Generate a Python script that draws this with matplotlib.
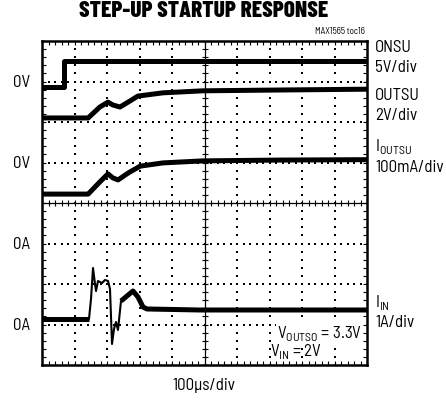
import numpy as np
import matplotlib.pyplot as plt

# scope traces, in divisions (x: 0..10, y: 0..8 from bottom)
onsu_x = [0, 0.68, 0.68, 10]
onsu_y = [6.86, 6.86, 7.5, 7.5]

outsu_x = [0, 1.42, 1.78, 2.03, 2.18, 2.40, 2.71, 2.95, 3.72, 4.95, 7.32, 10]
outsu_y = [6.10, 6.10, 6.37, 6.49, 6.42, 6.37, 6.52, 6.64, 6.72, 6.77, 6.79, 6.81]

ioutsu_x = [0, 1.42, 1.78, 2.03, 2.18, 2.34, 2.65, 3.02, 3.72, 4.95, 7.32, 10]
ioutsu_y = [4.22, 4.22, 4.52, 4.72, 4.62, 4.57, 4.74, 4.91, 4.99, 5.04, 5.06, 5.07]

iin_x = [0, 1.446, 1.508, 1.569, 1.631, 1.662, 1.723, 1.846, 1.938, 2.031, 2.092,
         2.154, 2.215, 2.277, 2.338, 2.431, 2.615, 2.8, 2.954, 3.108, 3.231, 4.862, 10]
iin_y = [1.136, 1.136, 1.63, 2.395, 2.0, 1.827, 2.074, 2.025, 2.099, 2.074, 1.877,
         0.519, 0.889, 1.062, 0.864, 1.580, 1.704, 1.827, 1.679, 1.432, 1.383, 1.358, 1.358]

left_labels = ["0V", "0V", "0A", "0A"]
left_label_y = [7, 5, 3, 1]

font = "Barlow Semi Condensed"
plt.rcParams['font.family'] = [font, 'DejaVu Sans']
plt.rcParams['mathtext.fontset'] = 'custom'
plt.rcParams['mathtext.rm'] = font

fig = plt.figure(figsize=(4.46, 4.02), dpi=100)
ax = fig.add_axes([42/446, 36/402, 325/446, 324/402])
ax.set_xlim(0, 10)
ax.set_ylim(0, 8)

# dotted graticule
fine = np.arange(0, 10.01, 0.2)
fine_y = np.arange(0, 8.01, 0.2)
for gy in [1, 2, 3, 5, 6, 7]:
    ax.scatter(fine, np.full_like(fine, gy), s=1.4, c="black", marker="s", linewidths=0)
for gx in [1, 2, 3, 4, 6, 7, 8, 9]:
    ax.scatter(np.full_like(fine_y, gx), fine_y, s=1.4, c="black", marker="s", linewidths=0)
ax.axhline(4, color="black", lw=0.9)
ax.axvline(5, color="black", lw=0.9)
ax.plot(fine, np.full_like(fine, 4), ls="none", marker="|", ms=5, mew=0.8, color="black")
ax.plot(np.full_like(fine_y, 5), fine_y, ls="none", marker="_", ms=5, mew=0.8, color="black")

# traces
tw = 3.6
ax.plot(onsu_x, onsu_y, color="black", lw=tw, solid_capstyle="butt")
ax.plot(outsu_x, outsu_y, color="black", lw=tw, solid_capstyle="butt")
ax.plot(ioutsu_x, ioutsu_y, color="black", lw=tw, solid_capstyle="butt")
ax.plot(iin_x, iin_y, color="black", lw=1.5)
ax.plot(iin_x[:2], iin_y[:2], color="black", lw=tw, solid_capstyle="butt")
ax.plot(iin_x[15:], iin_y[15:], color="black", lw=tw, solid_capstyle="butt")

ax.set_xticks(np.arange(0, 11, 1))
ax.set_yticks(np.arange(0, 9, 1))
ax.set_xticks(fine, minor=True)
ax.set_yticks(fine_y, minor=True)
ax.tick_params(which="both", direction="in", top=True, right=True,
               labelbottom=False, labelleft=False, length=3, width=0.8)
for s in ax.spines.values():
    s.set_linewidth(1.8)

fs = 12.2
for lab, ly in zip(left_labels, left_label_y):
    ax.text(-0.62, ly, lab, ha="center", va="center", fontsize=fs)

fig.text(204/446, 1 - 11/402, "STEP-UP STARTUP RESPONSE", ha="center", va="center",
         fontsize=16.8, fontweight=800, family=["Barlow Condensed", "DejaVu Sans"])
fig.text(365/446, 1 - 31/402, "MAX1565 toc16", ha="right", va="center", fontsize=6.5)

rx = 375/446
right_labels = [("ONSU", 48), ("5V/div", 68), ("OUTSU", 95), ("2V/div", 115),
                (r"I$_{\mathrm{OUTSU}}$", 147), ("100mA/div", 167),
                (r"I$_{\mathrm{IN}}$", 303), ("1A/div", 323)]
for t, py in right_labels:
    fig.text(rx, 1 - py/402, t, ha="left", va="center", fontsize=fs)

ax.text(9.85, 0.8, r"V$_{\mathrm{OUTSO}}$ = 3.3V", ha="right", va="center", fontsize=fs,
        bbox=dict(facecolor="white", edgecolor="none", pad=0.5), zorder=5)
ax.text(8.6, 0.36, r"V$_{\mathrm{IN}}$ = 2V", ha="right", va="center", fontsize=fs, zorder=6)

fig.text(204/446, 1 - 386/402, "100\u00b5s/div", ha="center", va="center", fontsize=fs)

fig.savefig("out.png", dpi=100)
